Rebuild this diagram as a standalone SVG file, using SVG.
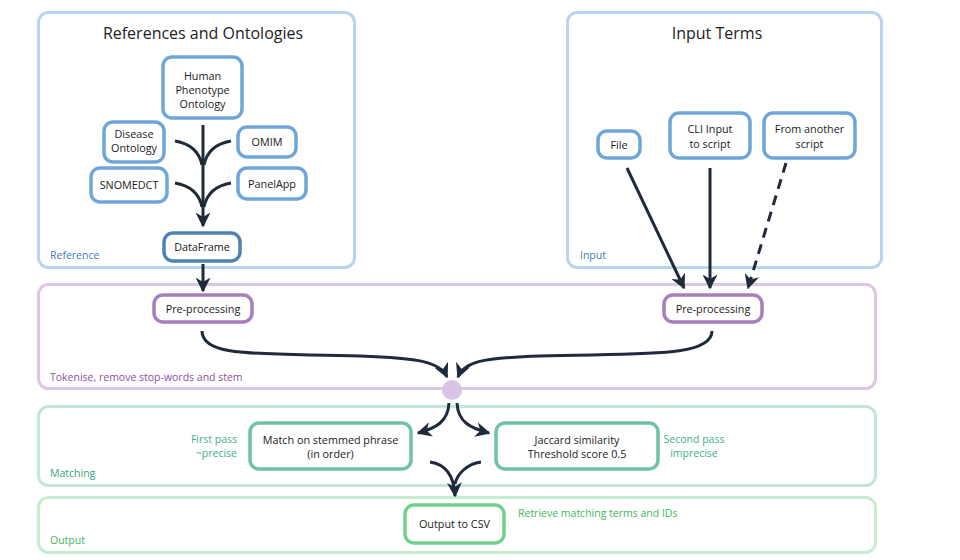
<svg xmlns="http://www.w3.org/2000/svg" width="960" height="560" viewBox="0 0 960 560">
<defs>
<marker id="ah" viewBox="0 0 10 10" refX="9" refY="5" markerWidth="5" markerHeight="5" orient="auto" markerUnits="strokeWidth">
<path d="M0,0 L10,5 L0,10 L3,5 z" fill="#1f2a3a"/>
</marker>
<style>
text{font-family:"Open Sans","Noto Sans",sans-serif;}
.c{fill:#fff;stroke-width:3;}
.cb{stroke:#b8d4ef;}
.cp{stroke:#dcc6e5;}
.cg{stroke:#c0e7d9;}
.co{stroke:#c6edd0;}
.nb{fill:#fff;stroke:#6fa6d9;stroke-width:3.5;}
.nd{fill:#fff;stroke:#4f82b3;stroke-width:3.5;}
.np{fill:#fff;stroke:#a77fbc;stroke-width:3.5;}
.ng{fill:#fff;stroke:#6fc2a6;stroke-width:3.5;}
.no{fill:#fff;stroke:#73d08f;stroke-width:3.5;}
.t{font-size:10.8px;fill:#1a1a1a;text-anchor:middle;}
.h{font-size:16px;fill:#222;text-anchor:middle;}
.l{font-size:10.5px;}
.w{fill:none;stroke:#1f2a3a;stroke-width:3;}
</style>
</defs>
<rect width="960" height="560" fill="#fff"/>
<g id="containers">
<rect class="c cb" x="38.5" y="12.5" width="316" height="255" rx="10"/>
<rect class="c cb" x="567.5" y="12.5" width="314" height="255" rx="10"/>
<rect class="c cp" x="38.5" y="284.5" width="837" height="104" rx="10"/>
<rect class="c cg" x="38.5" y="406.5" width="837" height="79" rx="10"/>
<rect class="c co" x="38.5" y="497.5" width="837" height="55" rx="10"/>
<text class="h" x="203" y="39">References and Ontologies</text>
<text class="h" x="717" y="39">Input Terms</text>
<text class="l" x="50" y="259" fill="#3b7cc0">Reference</text>
<text class="l" x="580" y="259" fill="#3b7cc0">Input</text>
<text class="l" x="50" y="381" fill="#8b4fa5">Tokenise, remove stop-words and stem</text>
<text class="l" x="50" y="477" fill="#36a57d">Matching</text>
<text class="l" x="50" y="544" fill="#43b563">Output</text>
<text class="l" x="237" y="443" fill="#3fb08a" text-anchor="end">First pass</text>
<text class="l" x="237" y="457" fill="#3fb08a" text-anchor="end">~precise</text>
<text class="l" x="694" y="443" fill="#3fb08a" text-anchor="middle">Second pass</text>
<text class="l" x="694" y="457" fill="#3fb08a" text-anchor="middle">imprecise</text>
<text class="l" x="518" y="517" fill="#43b563">Retrieve matching terms and IDs</text>
</g>
<g id="connectors">
<path class="w" d="M203,125 L203,226" marker-end="url(#ah)"/>
<path class="w" d="M175,141 Q198,145 202,165"/>
<path class="w" d="M231,141 Q208,145 204,165"/>
<path class="w" d="M175,183 Q198,187 202,207"/>
<path class="w" d="M231,183 Q208,187 204,207"/>
<path class="w" d="M203,264 L203,291" marker-end="url(#ah)"/>
<path class="w" d="M627,168 L684,288" marker-end="url(#ah)"/>
<path class="w" d="M710,168 L710,288" marker-end="url(#ah)"/>
<path class="w" d="M786,163 L748,288" stroke-dasharray="10,7" marker-end="url(#ah)"/>
<path class="w" d="M202,331 C202,358 260,353 360,356 C420,358 440,362 447,377" marker-end="url(#ah)"/>
<path class="w" d="M712,331 C712,358 640,353 540,356 C480,358 464,362 458,377" marker-end="url(#ah)"/>
<path class="w" d="M449,403 C448,422 436,428 418,433" marker-end="url(#ah)"/>
<path class="w" d="M457,403 C458,422 470,428 489,433" marker-end="url(#ah)"/>
<path class="w" d="M430,462 C444,464 454,474 455,496" marker-end="url(#ah)"/>
<path class="w" d="M481,462 C467,464 457,474 455,484"/>
</g>
<g id="merge-point"><circle cx="452" cy="390" r="10" fill="#d8c2e5"/></g>
<g id="hpo"><rect class="nb" x="163" y="57" width="79" height="61" rx="9"/>
<text class="t" x="202.5" y="80">Human</text><text class="t" x="202.5" y="94">Phenotype</text><text class="t" x="202.5" y="108">Ontology</text></g>
<g id="disease"><rect class="nb" x="104" y="122" width="60" height="40" rx="9"/>
<text class="t" x="134" y="138">Disease</text><text class="t" x="134" y="152">Ontology</text></g>
<g id="omim"><rect class="nb" x="238" y="127" width="58" height="30" rx="9"/>
<text class="t" x="267" y="146">OMIM</text></g>
<g id="snomed"><rect class="nb" x="91" y="168" width="76" height="34" rx="9"/>
<text class="t" x="129" y="189">SNOMEDCT</text></g>
<g id="panelapp"><rect class="nb" x="238" y="168" width="68" height="31" rx="9"/>
<text class="t" x="272" y="188">PanelApp</text></g>
<g id="dataframe"><rect class="nd" x="164" y="233" width="76" height="28" rx="9"/>
<text class="t" x="202" y="251">DataFrame</text></g>
<g id="file"><rect class="nb" x="598" y="131" width="42" height="27" rx="9"/>
<text class="t" x="619" y="149">File</text></g>
<g id="cli"><rect class="nb" x="670" y="113" width="80" height="45" rx="9"/>
<text class="t" x="710" y="133">CLI Input</text><text class="t" x="710" y="148">to script</text></g>
<g id="another"><rect class="nb" x="764" y="113" width="91" height="45" rx="9"/>
<text class="t" x="809.5" y="133">From another</text><text class="t" x="809.5" y="148">script</text></g>
<g id="pre-left"><rect class="np" x="154" y="295" width="98" height="27" rx="9"/>
<text class="t" x="203" y="313">Pre-processing</text></g>
<g id="pre-right"><rect class="np" x="664" y="295" width="98" height="27" rx="9"/>
<text class="t" x="713" y="313">Pre-processing</text></g>
<g id="match"><rect class="ng" x="250" y="423" width="161" height="46" rx="9"/>
<text class="t" x="330.5" y="444">Match on stemmed phrase</text><text class="t" x="330.5" y="458">(in order)</text></g>
<g id="jaccard"><rect class="ng" x="496" y="423" width="162" height="46" rx="9"/>
<text class="t" x="577" y="444">Jaccard similarity</text><text class="t" x="577" y="458">Threshold score 0.5</text></g>
<g id="csv"><rect class="no" x="405" y="505" width="99" height="38" rx="9"/>
<text class="t" x="454.5" y="528">Output to CSV</text></g>
</svg>
